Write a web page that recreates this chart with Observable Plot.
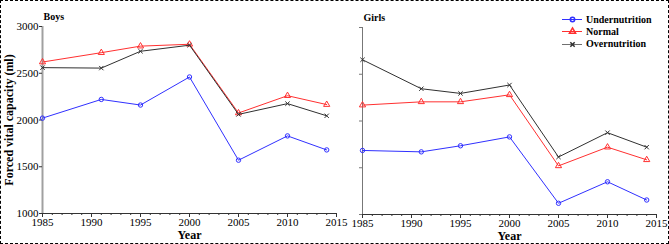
<!DOCTYPE html>
<html>
<head>
<meta charset="utf-8">
<script src="https://cdn.jsdelivr.net/npm/d3@7"></script>
<script src="https://cdn.jsdelivr.net/npm/@observablehq/plot@0.6"></script>
<style>
  body { margin: 0; background: #fff; }
  #wrap { position: relative; width: 669px; height: 244px; font-family: "Liberation Serif", "Times New Roman", serif; overflow: hidden; }
  #border { position: absolute; left: 0; top: 0; width: 669px; height: 244px; box-sizing: border-box; border: 1px dashed #000; pointer-events: none; }
  .panel { position: absolute; top: 0; }
  .panel svg { overflow: visible; }
  .panel svg, .panel svg text { font-family: "Liberation Serif", "Times New Roman", serif !important; }
  g[aria-label="x-axis label"] text, g[aria-label="y-axis label"] text { font-weight: bold; font-size: 12px; }
  #legend { position: absolute; left: 562px; top: 13px; font-weight: bold; font-size: 10px; color: #000; }
  #legend .row { display: flex; align-items: center; height: 12.3px; }
  #legend svg { margin-right: 4px; }
</style>
</head>
<body>
<div id="wrap">
  <div id="left" class="panel" style="left:0px"></div>
  <div id="right" class="panel" style="left:330px"></div>
  <div id="legend"></div>
  <div id="border"></div>
</div>
<script>
const years = [1985, 1991, 1995, 2000, 2005, 2010, 2014];
const boysUnder  = [2020, 2220, 2160, 2460, 1570, 1830, 1680];
const boysNormal = [2620, 2720, 2790, 2810, 2075, 2260, 2165];
const boysOver   = [2560, 2555, 2735, 2800, 2060, 2175, 2045];
const girlsUnder  = [1685, 1670, 1735, 1830, 1120, 1350, 1155];
const girlsNormal = [2170, 2205, 2205, 2280, 1520, 1720, 1585];
const girlsOver   = [2655, 2345, 2295, 2385, 1615, 1875, 1720];
const seriesNames = ["Undernutrition", "Normal", "Overnutrition"];
const seriesColors = ["#3030ff", "#ff3030", "#303030"];
const seriesSymbols = ["circle", "triangle", "times"];
const xTicks = [1985, 1990, 1995, 2000, 2005, 2010, 2015];
const xMinor = d3.range(1985, 2016);
const yTicks = [1000, 1500, 2000, 2500, 3000];
const panelTitles = ["Boys", "Girls"];
const symbolSize = [2.2, 2.3, 2.1];

function rows(values) {
  const out = [];
  values.forEach((vals, s) => vals.forEach((v, i) => out.push({year: years[i], value: v, series: seriesNames[s]})));
  return out;
}

function panel(title, values, left) {
  const data = rows(values);
  const marks = [];
  marks.push(Plot.ruleY([1000], {stroke: "#333", strokeWidth: 1}));
  marks.push(Plot.ruleX([1985], {stroke: left ? "#a0a0a0" : "#777", strokeWidth: left ? 2 : 1}));
  marks.push(Plot.axisX(xMinor, {tickSize: 2, text: null, stroke: "#333", label: null}));
  marks.push(Plot.axisX(xTicks, {tickSize: 4, tickPadding: 1, stroke: "#333", fill: "#000", tickFormat: d => String(d), label: "Year", labelAnchor: "center", labelArrow: "none", labelOffset: 25}));
  if (left) {
    marks.push(Plot.axisY(yTicks, {tickSize: 3, tickPadding: 1, stroke: "#333", fill: "#000", tickFormat: d => String(d), label: "Forced vital capacity (ml)", labelAnchor: "center", labelArrow: "none", labelOffset: 38}));
  } else {
    marks.push(Plot.axisY(yTicks, {tickSize: 3, stroke: "#777", text: null, label: null}));
  }
  seriesNames.forEach((name, s) => {
    const d = data.filter(r => r.series === name);
    marks.push(Plot.line(d, {x: "year", y: "value", stroke: seriesColors[s], strokeWidth: 1}));
    marks.push(Plot.dot(d, {x: "year", y: "value", stroke: seriesColors[s], fill: "none", symbol: seriesSymbols[s], r: symbolSize[s], strokeWidth: 1}));
  });
  marks.push(Plot.text([title], {frameAnchor: "top-left", dx: 1, dy: -14, text: d => d, fontWeight: "bold", fontSize: 10, textAnchor: "start", fill: "#000"}));
  return Plot.plot({
    width: left ? 345 : 339,
    height: 244,
    marginLeft: left ? 42 : 32,
    marginRight: left ? 9 : 13,
    marginTop: left ? 26 : 27,
    marginBottom: left ? 31 : 30,
    x: {domain: [1985, 2015]},
    y: {domain: [1000, 3000]},
    style: {fontFamily: "Liberation Serif, Times New Roman, serif", fontSize: "11px", background: "transparent", color: "#000"},
    marks
  });
}

document.getElementById("left").appendChild(panel(panelTitles[0], [boysUnder, boysNormal, boysOver], true));
document.getElementById("right").appendChild(panel(panelTitles[1], [girlsUnder, girlsNormal, girlsOver], false));

const legend = document.getElementById("legend");
seriesNames.forEach((name, s) => {
  const row = document.createElement("div");
  row.className = "row";
  const sw = Plot.plot({
    width: 20, height: 10, margin: 0, axis: null,
    x: {domain: [0, 1]}, y: {domain: [0, 1]},
    style: {background: "transparent", overflow: "visible"},
    marks: [
      Plot.ruleY([0.5], {x1: 0, x2: 1, stroke: s === 2 ? "#707070" : seriesColors[s]}),
      Plot.dot([{x: 0.5, y: 0.5}], {x: "x", y: "y", stroke: seriesColors[s], fill: "none", symbol: seriesSymbols[s], r: symbolSize[s]})
    ]
  });
  row.appendChild(sw);
  const t = document.createElement("span");
  t.textContent = name;
  row.appendChild(t);
  legend.appendChild(row);
});
</script>
</body>
</html>
